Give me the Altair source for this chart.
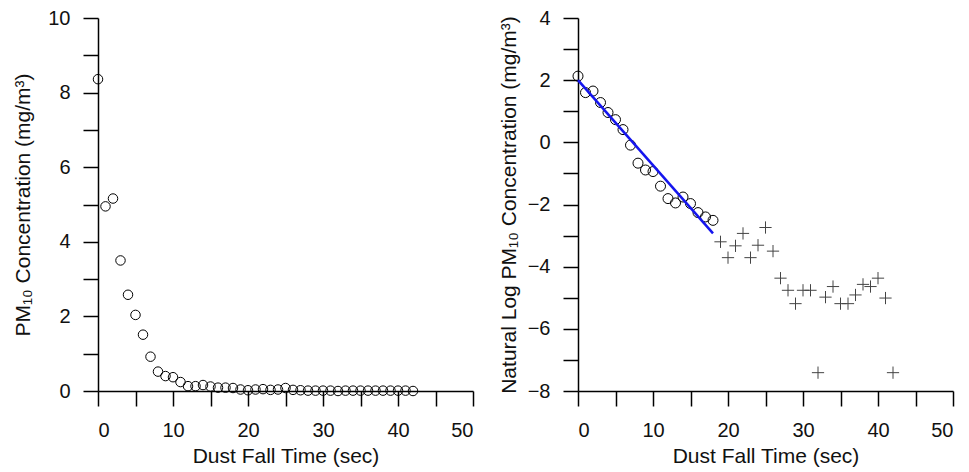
import altair as alt
import pandas as pd

# ---- data ----
time_all = [0, 1, 2, 3, 4, 5, 6, 7, 8, 9, 10, 11, 12, 13, 14, 15, 16, 17, 18, 19, 20,
            21, 22, 23, 24, 25, 26, 27, 28, 29, 30, 31, 32, 33, 34, 35, 36, 37, 38, 39, 40, 41, 42]
pm10 = [8.36, 4.95, 5.16, 3.50, 2.58, 2.04, 1.51, 0.92, 0.52, 0.40, 0.37, 0.24, 0.13, 0.13,
        0.16, 0.12, 0.09, 0.09, 0.08, 0.04, 0.02, 0.04, 0.05, 0.03, 0.04, 0.08, 0.03, 0.02,
        0.01, 0.01, 0.01, 0.01, 0.00, 0.01, 0.01, 0.01, 0.01, 0.01, 0.01, 0.01, 0.01, 0.01, 0.00]

time_fit = [0, 1, 2, 3, 4, 5, 6, 7, 8, 9, 10, 11, 12, 13, 14, 15, 16, 17, 18]
ln_fit = [2.13, 1.60, 1.65, 1.28, 0.96, 0.73, 0.41, -0.09, -0.67, -0.89, -0.94, -1.41,
          -1.81, -1.95, -1.76, -1.97, -2.26, -2.40, -2.51]

time_rest = [19, 20, 21, 22, 23, 24, 25, 26, 27, 28, 29, 30, 31, 32, 33, 34, 35, 36, 37,
             38, 39, 40, 41, 42]
ln_rest = [-3.20, -3.71, -3.33, -2.93, -3.71, -3.31, -2.74, -3.50, -4.37, -4.76, -5.19,
           -4.76, -4.76, -7.41, -4.98, -4.64, -5.19, -5.19, -4.91, -4.57, -4.64, -4.37,
           -5.01, -7.41]

line_x = [0, 18]
line_y = [2.0, -2.93]

x_ticks = [0, 5, 10, 15, 20, 25, 30, 35, 40, 45, 50]
left_y_ticks = [0, 1, 2, 3, 4, 5, 6, 7, 8, 9, 10]
right_y_ticks = [-8, -7, -6, -5, -4, -3, -2, -1, 0, 1, 2, 3, 4]

FONT = "Liberation Sans"
W, H = 375, 373

df_left = pd.DataFrame({"t": time_all, "v": pm10})
df_fit = pd.DataFrame({"t": time_fit, "v": ln_fit})
df_rest = pd.DataFrame({"t": time_rest, "v": ln_rest})
df_line = pd.DataFrame({"t": line_x, "v": line_y})

axis_common = dict(
    domainColor="black", domainWidth=1.5, tickColor="black", tickWidth=1.5,
    tickSize=15, labelFont=FONT, labelFontSize=20, labelColor="#111",
    titleFont=FONT, titleFontSize=21, titleFontWeight="normal", titleColor="#111",
    grid=False,
)

x_axis = alt.Axis(values=x_ticks, title="Dust Fall Time (sec)",
                  labelExpr="datum.value % 10 === 0 ? datum.label : ''",
                  labelPadding=14, titlePadding=5, **axis_common)

x_enc = alt.X("t:Q", scale=alt.Scale(domain=[0, 50], nice=False), axis=x_axis)

left = alt.Chart(df_left).mark_point(
    shape="circle", filled=False, color="black", size=90, strokeWidth=1, opacity=1
).encode(
    x=x_enc,
    y=alt.Y("v:Q", scale=alt.Scale(domain=[0, 10], nice=False),
            axis=alt.Axis(values=left_y_ticks,
                          title="PM₁₀ Concentration (mg/m³)",
                          labelExpr="datum.value % 2 === 0 ? datum.label : ''",
                          labelPadding=13, titlePadding=14, **axis_common)),
).properties(width=W, height=H)

y_right = alt.Y("v:Q", scale=alt.Scale(domain=[-8, 4], nice=False),
                axis=alt.Axis(values=right_y_ticks,
                              title="Natural Log PM₁₀ Concentration (mg/m³)",
                              labelExpr="datum.value % 2 === 0 ? datum.label : ''",
                              labelPadding=13, titlePadding=8, **axis_common))

circles = alt.Chart(df_fit).mark_point(
    shape="circle", filled=False, color="black", size=100, strokeWidth=1, opacity=1
).encode(x=x_enc, y=y_right)

crosses = alt.Chart(df_rest).mark_point(
    shape="M-1,0L1,0M0,-1L0,1", filled=False, color="#444", size=150, strokeWidth=1, opacity=1
).encode(x=x_enc, y=y_right)

fit_line = alt.Chart(df_line).mark_line(color="#1515ee", strokeWidth=2.5).encode(
    x=x_enc, y=y_right)

right = alt.layer(circles, fit_line, crosses).properties(width=W, height=H)

chart = alt.hconcat(left, right, spacing=24).configure_view(
    stroke=None
).properties(
    padding={"left": 4, "top": 0, "right": 5, "bottom": 5},
    background="white",
)

chart.save("out.html", embed_options={"renderer": "svg", "actions": False})
